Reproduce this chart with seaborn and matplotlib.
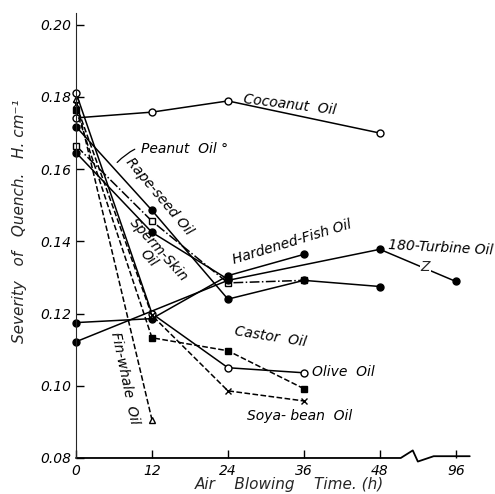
import matplotlib
matplotlib.use("Agg")
import matplotlib.pyplot as plt
import seaborn as sns
import numpy as np

# ---- data (hours of air blowing, severity of quench H cm^-1) ----
cocoanut_h = [0, 12, 24, 48]
cocoanut = [0.1742, 0.1758, 0.1789, 0.1700]
peanut_h = [0, 12, 24, 36]
peanut = [0.1665, 0.1456, 0.1285, 0.1292]
rapeseed_h = [0, 12, 24, 36, 48]
rapeseed = [0.1718, 0.1486, 0.1240, 0.1292, 0.1275]
sperm_h = [0, 12, 24]
sperm = [0.1646, 0.1425, 0.1295]
hardened_h = [0, 12, 24, 36]
hardened = [0.1175, 0.1186, 0.1305, 0.1364]
turbine_h = [0, 24, 48, 96]
turbine = [0.1122, 0.1292, 0.1378, 0.1289]
castor_h = [0, 12, 24, 36]
castor = [0.1765, 0.1133, 0.1097, 0.0992]
olive_h = [0, 12, 24, 36]
olive = [0.1812, 0.1200, 0.1050, 0.1036]
soya_h = [0, 12, 24, 36]
soya = [0.1780, 0.1195, 0.0986, 0.0958]
finwhale_h = [0, 12]
finwhale = [0.1793, 0.0906]

x_ticks_hours = [0, 12, 24, 36, 48, 96]
y_ticks = [0.08, 0.10, 0.12, 0.14, 0.16, 0.18, 0.20]


def pos(hours):
    # broken axis: 96 h is drawn one step after 48 h
    return [60 if h == 96 else h for h in hours]


sns.set_style("ticks")
plt.rcParams["font.family"] = ["DejaVu Sans"]
plt.rcParams["font.style"] = "italic"

fig = plt.figure(figsize=(4.95, 4.94), dpi=100)
ax = fig.add_axes([0.1535, 0.0729, 0.7955, 0.9011])

series = [
    (cocoanut_h, cocoanut, "o", "white", "-"),
    (peanut_h, peanut, "s", "white", "-."),
    (rapeseed_h, rapeseed, "o", "black", "-"),
    (sperm_h, sperm, "o", "black", "-"),
    (hardened_h, hardened, "o", "black", "-"),
    (turbine_h, turbine, "o", "black", "-"),
    (castor_h, castor, "s", "black", "--"),
    (olive_h, olive, "o", "white", "-"),
    (soya_h, soya, "x", "black", "--"),
    (finwhale_h, finwhale, "^", "white", "--"),
]
for hrs, vals, mk, fc, ls in series:
    sns.lineplot(x=pos(hrs), y=vals, ax=ax, color="black", linewidth=1.1,
                 linestyle=ls, marker=mk, markersize=5 if mk != "x" else 4.5,
                 markerfacecolor=fc, markeredgecolor="black",
                 markeredgewidth=1.0, sort=False, clip_on=False)

ax.set_xlim(0, 62.2)
ax.set_ylim(0.08, 0.2033)
sns.despine(ax=ax)
ax.spines["bottom"].set_visible(False)
ax.spines["left"].set_bounds(0.08, 0.2033)

ax.set_yticks(y_ticks)
ax.set_yticklabels([f"{v:.2f}" for v in y_ticks], fontsize=10)
ax.set_xticks(pos(x_ticks_hours))
ax.set_xticklabels([str(h) for h in x_ticks_hours], fontsize=10)
ax.tick_params(axis="both", direction="in", length=6, width=1.0, colors="black")
ax.tick_params(axis="x", pad=4)

# bottom axis with zig-zag break between 48 and 96
bt = ax.get_xaxis_transform()
ax.plot([0, 51.3, 53.2, 54.0, 56.5, 62.2], [0, 0, 0.017, -0.008, 0.004, 0.004],
        transform=bt, color="black", linewidth=1.3, clip_on=False)

# labels on the curves
kw = dict(fontsize=10, color="black", style="italic")
ax.text(33.8, 0.1779, "Cocoanut  Oil", rotation=-7, ha="center", va="center", **kw)
ax.annotate("Peanut  Oil °", xy=(6.2, 0.1613), xytext=(10.2, 0.1655),
            ha="left", va="center",
            arrowprops=dict(arrowstyle="-", color="black", lw=0.9,
                            connectionstyle="arc3,rad=0.35"), **kw)
ax.text(13.2, 0.1525, "Rape-seed Oil", rotation=-50, ha="center", va="center", **kw)
ax.text(12.3, 0.1365, "Sperm-Skin\nOil", rotation=-48, ha="center", va="center",
        linespacing=0.9, **kw)
ax.text(34.2, 0.1398, "Hardened-Fish Oil", rotation=17, ha="center", va="center", **kw)
ax.text(57.6, 0.1381, "180-Turbine Oil", rotation=-3, ha="center", va="center", **kw)
ax.text(55.2, 0.1330, "Z", rotation=0, ha="center", va="center", fontsize=10,
        bbox=dict(boxstyle="square,pad=0.05", fc="white", ec="none"))
ax.text(30.7, 0.1136, "Castor  Oil", rotation=-9, ha="center", va="center", **kw)
ax.text(37.3, 0.1038, "Olive  Oil", rotation=0, ha="left", va="center", **kw)
ax.text(35.4, 0.0917, "Soya- bean  Oil", rotation=0, ha="center", va="center", **kw)
ax.text(7.7, 0.1022, "Fin-whale  Oil", rotation=-78, ha="center", va="center", **kw)

ax.set_ylabel("Severity   of   Quench.   H. cm⁻¹", fontsize=11)
ax.yaxis.set_label_coords(-0.125, 0.533)
fig.text(0.584, 0.004, "Air    Blowing    Time. (h)", ha="center", va="bottom", fontsize=11)

fig.savefig("out.png", dpi=100, facecolor="white")
